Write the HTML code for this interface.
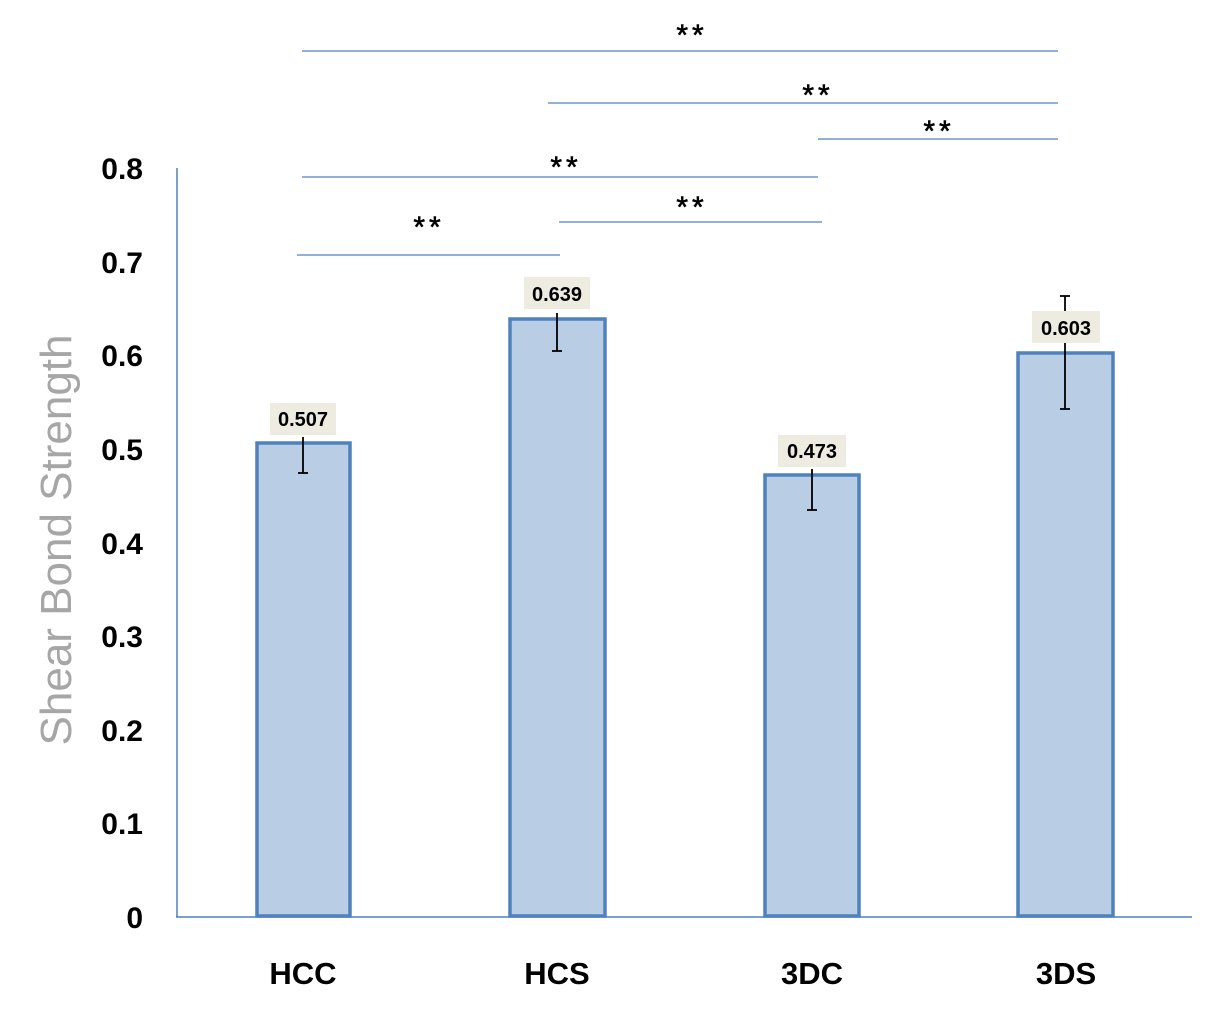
<!DOCTYPE html>
<html><head><meta charset="utf-8"><style>
body{margin:0;background:#fff}
svg{display:block;font-family:"Liberation Sans",Arial,sans-serif}
</style></head><body>
<svg width="1216" height="1009" viewBox="0 0 1216 1009">
<rect width="1216" height="1009" fill="#fff"/>
<line x1="177" y1="168" x2="177" y2="917" stroke="#4F81BD" stroke-width="1.5"/>
<line x1="176" y1="917" x2="1192" y2="917" stroke="#4F81BD" stroke-width="1.5"/>
<g font-size="30" font-weight="bold" text-anchor="end" fill="#000">
<text x="143" y="928">0</text>
<text x="143" y="834">0.1</text>
<text x="143" y="741">0.2</text>
<text x="143" y="647">0.3</text>
<text x="143" y="554">0.4</text>
<text x="143" y="460">0.5</text>
<text x="143" y="366">0.6</text>
<text x="143" y="273">0.7</text>
<text x="143" y="179">0.8</text>
</g>
<text transform="translate(71,540) rotate(-90)" font-size="44" fill="#A6A6A6" text-anchor="middle">Shear Bond Strength</text>
<g fill="#B9CDE5" stroke="#4F81BD" stroke-width="3.5">
<rect x="257" y="443" width="93" height="473"/>
<rect x="510" y="319" width="95" height="597"/>
<rect x="765" y="475" width="94" height="441"/>
<rect x="1018" y="353" width="95" height="563"/>
</g>
<g stroke="#000" stroke-width="1.8">
<line x1="303" y1="437" x2="303" y2="473"/><line x1="298" y1="473" x2="308" y2="473"/>
<line x1="557" y1="313" x2="557" y2="351"/><line x1="552" y1="351" x2="562" y2="351"/>
<line x1="812" y1="469" x2="812" y2="510"/><line x1="807" y1="510" x2="817" y2="510"/>
<line x1="1065" y1="296" x2="1065" y2="409"/><line x1="1060" y1="296" x2="1070" y2="296"/><line x1="1060" y1="409" x2="1070" y2="409"/>
</g>
<g fill="#EEECE1">
<rect x="270" y="403" width="66" height="32"/>
<rect x="524" y="277" width="66" height="32"/>
<rect x="778" y="435" width="68" height="32"/>
<rect x="1032" y="311" width="68" height="32"/>
</g>
<g font-size="20" font-weight="bold" text-anchor="middle" fill="#000">
<text x="303" y="426">0.507</text>
<text x="557" y="301">0.639</text>
<text x="812" y="458">0.473</text>
<text x="1066" y="335">0.603</text>
</g>
<g font-size="31" font-weight="bold" text-anchor="middle" fill="#000">
<text x="303" y="984">HCC</text>
<text x="557" y="984">HCS</text>
<text x="812" y="984">3DC</text>
<text x="1066" y="984">3DS</text>
</g>
<g stroke="#4F81BD" stroke-width="1.3">
<line x1="302" y1="51" x2="1058" y2="51"/>
<line x1="548" y1="103" x2="1058" y2="103"/>
<line x1="818" y1="139" x2="1058" y2="139"/>
<line x1="302" y1="177" x2="818" y2="177"/>
<line x1="559" y1="222" x2="822" y2="222"/>
<line x1="297" y1="255" x2="560" y2="255"/>
</g>
<g font-size="30" text-anchor="middle" fill="#000" letter-spacing="4" stroke="#000" stroke-width="0.6">
<text x="692" y="45">**</text>
<text x="818" y="105">**</text>
<text x="939" y="141">**</text>
<text x="566" y="177">**</text>
<text x="692" y="217">**</text>
<text x="429" y="237">**</text>
</g>
</svg>
</body></html>
